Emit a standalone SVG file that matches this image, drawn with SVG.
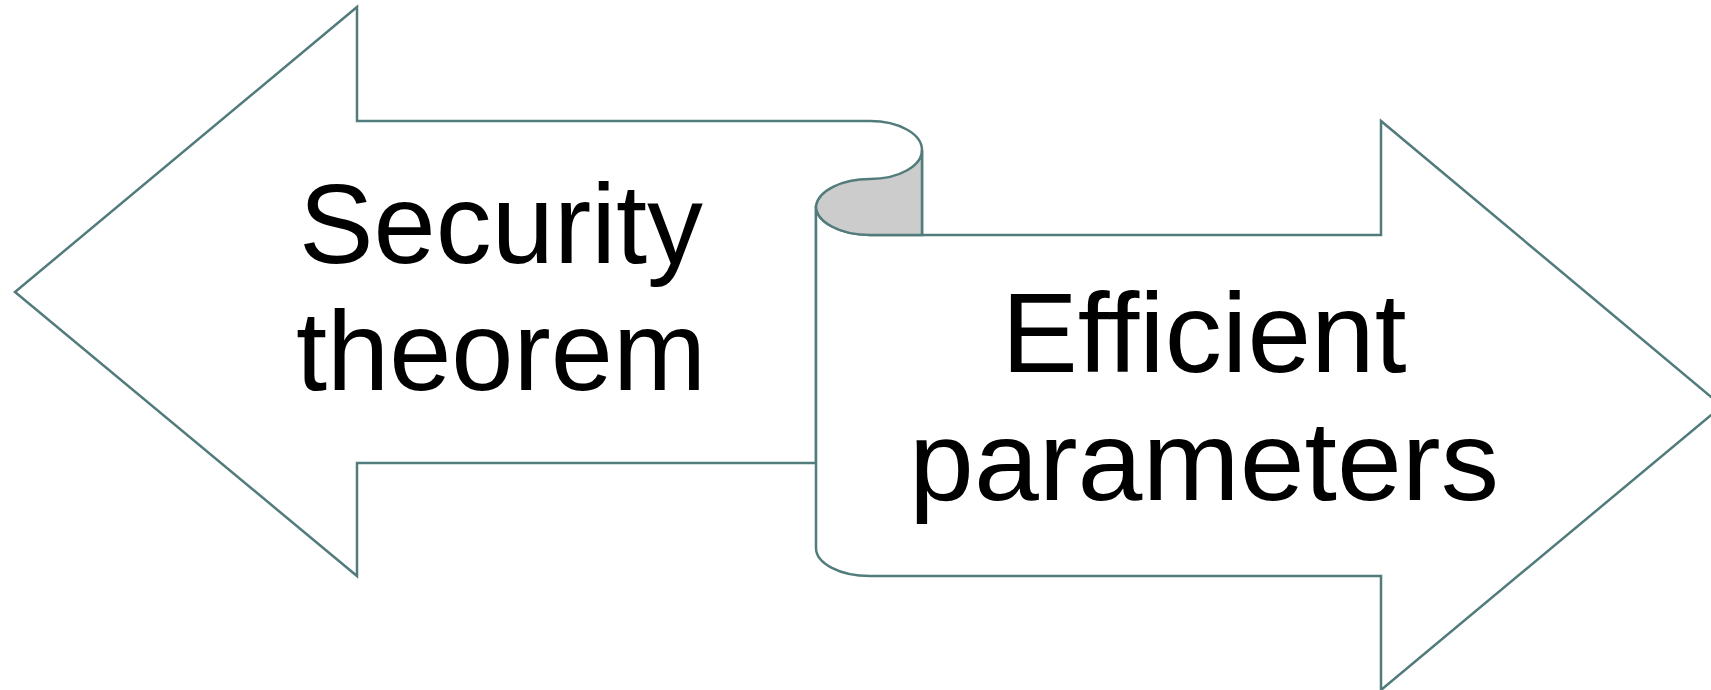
<svg xmlns="http://www.w3.org/2000/svg" width="1711" height="690" viewBox="0 0 1711 690">
  <style>
    .outline { fill: #ffffff; stroke: #527c7b; stroke-width: 2.5; stroke-linejoin: miter; }
    .curl { fill: #cccccc; stroke: #527c7b; stroke-width: 2.5; }
    .label { font-family: "Liberation Sans", Arial, sans-serif; font-size: 113px; fill: #000000; text-anchor: middle; }
  </style>
  <rect width="1711" height="690" fill="#ffffff"/>

  <!-- left-pointing arrow, its shaft rolling into the scroll -->
  <g id="security-theorem">
    <path class="outline" d="M 816 463 H 357 V 576 L 15 292 L 357 7 V 121 H 870 A 52 29 0 0 1 922 150 V 235 H 870 A 54 29 0 0 1 816 206 Z"/>
    <text class="label" x="501" y="263" textLength="404" lengthAdjust="spacingAndGlyphs">Security</text>
    <text class="label" x="501" y="390" textLength="410" lengthAdjust="spacingAndGlyphs">theorem</text>
  </g>

  <!-- right-pointing arrow unrolling from the scroll -->
  <g id="efficient-parameters">
    <path class="outline" d="M 870 235 H 1381 V 121 L 1722 406 L 1381 690 V 576 H 870 A 54 28 0 0 1 816 548 V 206 A 54 29 0 0 0 870 235 Z"/>
    <text class="label" x="1204" y="372" textLength="405" lengthAdjust="spacingAndGlyphs">Efficient</text>
    <text class="label" x="1204" y="500" textLength="590" lengthAdjust="spacingAndGlyphs">parameters</text>
  </g>

  <!-- rolled curl of the scroll -->
  <g id="scroll-curl">
    <path class="curl" d="M 922 150 A 52 29 0 0 1 870 179 A 54 29 0 0 0 816 206 A 54 29 0 0 0 870 235 H 922 Z"/>
  </g>
</svg>
